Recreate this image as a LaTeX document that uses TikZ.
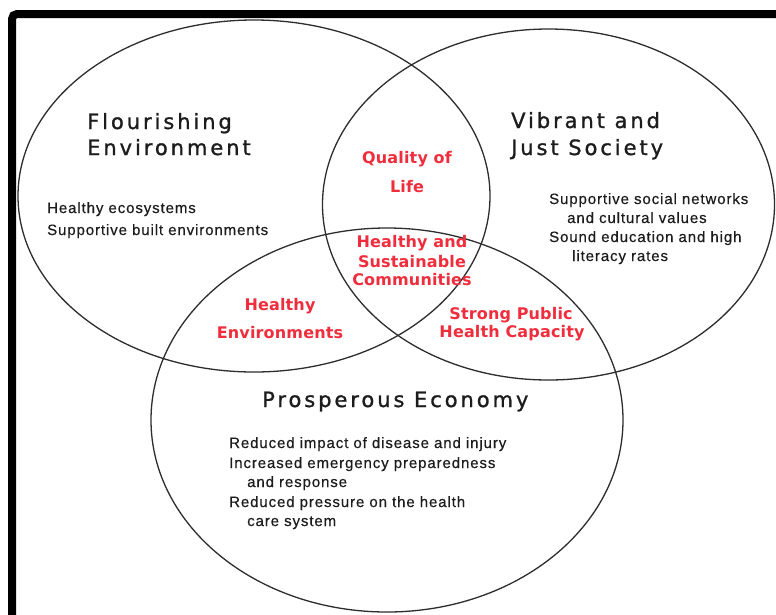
\documentclass[tikz,border=0pt]{standalone}
\usepackage{fontspec}
\setmainfont{Liberation Sans}
\newfontfamily\headfont[LetterSpace=14,FakeBold=1.2]{DejaVu Sans}
\newfontfamily\bodyfont[LetterSpace=6,FakeBold=0.4]{Liberation Sans}
\newfontfamily\redfont[LetterSpace=1]{DejaVu Sans}
\definecolor{ink}{RGB}{28,28,28}
\definecolor{lbl}{RGB}{240,45,60}
\definecolor{edge}{RGB}{45,45,45}
\tikzset{
  venn/.style={draw=edge, line width=1.3pt},
  head/.style={anchor=base west, inner sep=0pt, text=ink, font=\headfont\fontsize{21}{25}\selectfont},
  body/.style={anchor=base west, inner sep=0pt, text=ink, font=\bodyfont\fontsize{15}{18}\selectfont},
  red/.style={anchor=base, inner sep=0pt, text=lbl, font=\redfont\bfseries\fontsize{16}{19}\selectfont},
  frame/.style={line width=8pt, rounded corners=5pt, draw=black}
}
\begin{document}
\begin{tikzpicture}[x=1pt,y=-1pt]
\useasboundingbox (0,0) rectangle (776,614);
\fill[white] (0,0) rectangle (776,614);
\draw[frame] (12,620) -- (12,14) -- (782,14);
% circles
\draw[venn] (254,196) ellipse [x radius=236pt, y radius=176pt];
\draw[venn] (548.5,204.5) ellipse [x radius=226pt, y radius=175.5pt];
\draw[venn] (387,420) ellipse [x radius=236pt, y radius=192pt];
% headings
\node[head] (fl1) at (87,129) {Flourishing};
\node[head] (fl2) at (87,155) {Environment};
\node[head] (vj1) at (511,128) {Vibrant and};
\node[head] (vj2) at (511,155) {Just Society};
\node[head] (pe) at (262,407) {Prosperous Economy};
% body text
\node[body] (b1) at (47,213) {Healthy ecosystems};
\node[body] (b2) at (47,235) {Supportive built environments};
\node[body] (c1) at (549,204) {Supportive social networks};
\node[body] (c2) at (567,223) {and cultural values};
\node[body] (c3) at (549,242) {Sound education and high};
\node[body] (c4) at (572,261) {literacy rates};
\node[body] (d1) at (229,448) {Reduced impact of disease and injury};
\node[body] (d2) at (229,468) {Increased emergency preparedness};
\node[body] (d3) at (247,487) {and response};
\node[body] (d4) at (229,507) {Reduced pressure on the health};
\node[body] (d5) at (247,526) {care system};
% red labels
\node[red] (q1) at (407,163) {Quality of};
\node[red] (q2) at (407,192) {Life};
\node[red] (h1) at (412,247) {Healthy and};
\node[red] (h2) at (412,267) {Sustainable};
\node[red] (h3) at (412,285) {Communities};
\node[red] (e1) at (280,310) {Healthy};
\node[red] (e2) at (280,338) {Environments};
\node[red] (s1) at (511,319) {Strong Public};
\node[red] (s2) at (512,337) {Health Capacity};
\end{tikzpicture}
\end{document}
